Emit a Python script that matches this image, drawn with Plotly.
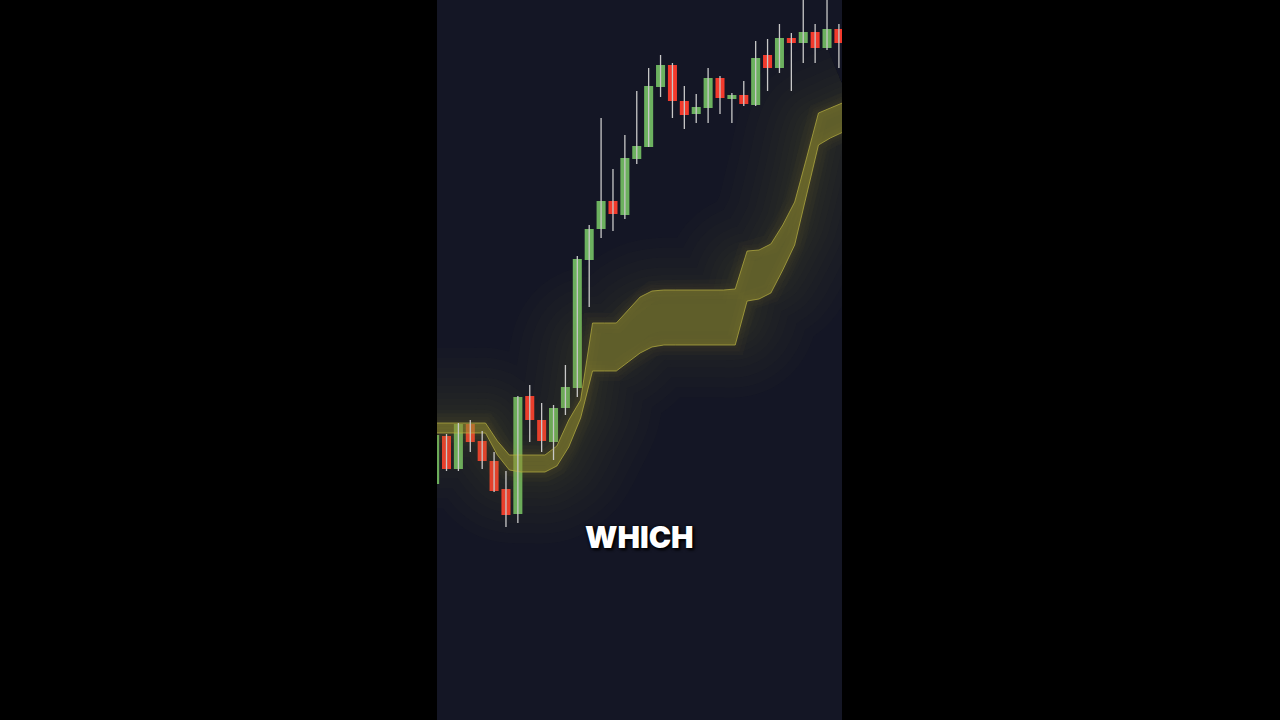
import plotly.graph_objects as go

# ---- candle data (index, OHLC) ----
idx = list(range(35))
opens = [23.6, 28.4, 25.1, 29.6, 27.9, 25.9, 23.1, 20.6, 32.4, 30.0, 27.8, 31.2, 33.2, 46.0, 49.1, 51.9, 50.5, 56.1,
         57.3, 63.3, 65.5, 61.9, 60.6, 61.2, 64.2, 62.1, 62.5, 61.5, 66.5, 65.2, 68.2, 67.7, 68.8, 67.2, 69.1]
highs = [28.7, 28.6, 29.7, 30.0, 28.9, 26.8, 24.9, 32.4, 33.5, 31.7, 31.5, 35.5, 46.4, 49.5, 60.2, 55.1, 58.5, 62.9,
         65.2, 66.5, 65.7, 63.4, 62.6, 65.2, 64.4, 62.7, 63.9, 67.9, 68.1, 69.6, 68.7, 72.8, 69.6, 72.8, 69.6]
lows = [23.4, 24.9, 24.9, 26.8, 25.1, 22.8, 19.3, 19.7, 27.8, 26.8, 26.0, 30.5, 32.3, 41.3, 48.2, 48.9, 50.1, 55.6,
        57.3, 62.3, 60.2, 59.1, 59.7, 59.7, 60.6, 59.7, 61.4, 61.4, 62.9, 64.7, 62.9, 65.7, 65.7, 67.0, 65.2]
closes = [28.5, 25.1, 29.6, 27.8, 25.9, 22.9, 20.5, 32.3, 30.0, 27.9, 31.2, 33.3, 46.1, 49.1, 51.9, 50.6, 56.2, 57.4,
          63.4, 65.5, 61.9, 60.5, 61.3, 64.2, 62.2, 62.5, 61.6, 66.2, 65.2, 68.2, 67.7, 68.8, 67.2, 69.1, 67.7]

# ---- band (upper / lower) per candle ----
band_upper = [29.7, 29.7, 29.7, 29.7, 29.7, 27.9, 26.5, 26.5, 26.5, 26.5, 27.4, 30.0, 32.0, 39.7, 39.7, 39.7, 41.0,
              42.3, 42.9, 43.0, 43.0, 43.0, 43.0, 43.0, 43.0, 43.1, 46.9, 47.0, 47.6, 49.5, 51.8, 56.2, 60.7, 61.2, 61.7]
band_lower = [28.7, 28.7, 28.7, 28.7, 28.7, 26.5, 25.0, 24.8, 24.8, 24.8, 25.4, 27.3, 30.2, 34.9, 34.9, 34.9, 35.8,
              36.7, 37.3, 37.5, 37.5, 37.5, 37.5, 37.5, 37.5, 37.5, 41.9, 42.1, 42.7, 45.0, 47.5, 52.5, 57.5, 58.2, 58.8]

caption = "WHICH"

GREEN = "#6cb15f"
RED = "#f23a2c"
WICK = "#c8c8c8"
BAND_SHIFT = 0.28

fig = go.Figure()

band_x = [i + BAND_SHIFT for i in idx]
band_x_ext = [band_x[0] - 1] + band_x + [band_x[-1] + 1]
up_ext = [band_upper[0]] + band_upper + [band_upper[-1] + 0.5]
lo_ext = [band_lower[0]] + band_lower + [band_lower[-1] + 0.5]
mid_ext = [(u + l) / 2 for u, l in zip(up_ext, lo_ext)]

# soft glow
for w in [160, 140, 120, 100, 85, 70, 58, 46, 36, 28]:
    fig.add_trace(go.Scatter(x=band_x_ext, y=mid_ext, mode="lines",
                             line=dict(color="rgba(150,135,40,0.018)", width=w, shape="spline", smoothing=0.6),
                             hoverinfo="skip", showlegend=False))
for w in [20, 12, 6]:
    for series in (up_ext, lo_ext):
        fig.add_trace(go.Scatter(x=band_x_ext, y=series, mode="lines",
                                 line=dict(color="rgba(190,175,50,0.03)", width=w),
                                 hoverinfo="skip", showlegend=False))

# band fill
fig.add_trace(go.Scatter(x=band_x_ext, y=up_ext, mode="lines",
                         line=dict(color="rgba(185,178,65,0.7)", width=1),
                         hoverinfo="skip", showlegend=False))
fig.add_trace(go.Scatter(x=band_x_ext, y=lo_ext, mode="lines", fill="tonexty",
                         fillcolor="rgba(150,146,48,0.5)",
                         line=dict(color="rgba(185,178,65,0.7)", width=1),
                         hoverinfo="skip", showlegend=False))

# wicks
wx, wy = [], []
for i, h, l in zip(idx, highs, lows):
    wx += [i, i, None]
    wy += [l, h, None]
fig.add_trace(go.Scatter(x=wx, y=wy, mode="lines", line=dict(color=WICK, width=1.3),
                         hoverinfo="skip", showlegend=False))

# bodies
bases = [min(o, c) for o, c in zip(opens, closes)]
heights = [max(abs(c - o), 0.3) for o, c in zip(opens, closes)]
colors = [GREEN if c >= o else RED for o, c in zip(opens, closes)]
fig.add_trace(go.Bar(x=idx, y=heights, base=bases, width=0.76,
                     marker=dict(color=colors, line=dict(width=0)),
                     hoverinfo="skip", showlegend=False))

fig.add_annotation(x=0.5, y=1 - 537 / 720, xref="paper", yref="paper", text=caption,
                   showarrow=False, xanchor="center", yanchor="middle",
                   font=dict(family="Inter", size=30, color="white", weight=900,
                             shadow="0px 0px 3px #000, 2px 2px 3px #000"))

fig.update_layout(
    width=1280, height=720,
    margin=dict(l=437, r=438, t=0, b=0),
    paper_bgcolor="#000000",
    plot_bgcolor="#141625",
    barmode="overlay",
    showlegend=False,
    hovermode=False,
    xaxis=dict(range=[0.2, 34.26], visible=False, showgrid=False, zeroline=False),
    yaxis=dict(range=[0, 72], visible=False, showgrid=False, zeroline=False),
)

fig.write_html("out.html", config={"displayModeBar": False, "staticPlot": True},
               post_script="document.body.style.margin='0px';document.body.style.background='#000';")
